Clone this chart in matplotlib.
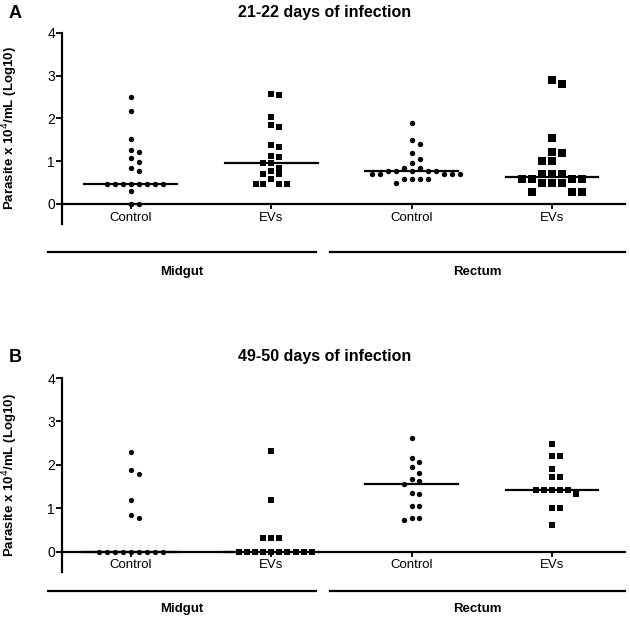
import numpy as np
import matplotlib.pyplot as plt

plt.rcParams['font.family'] = ['Liberation Sans', 'DejaVu Sans']

groups = ["Control", "EVs", "Control", "EVs"]
tissues = ["Midgut", "Rectum"]
titles = ["21-22 days of infection", "49-50 days of infection"]
panel_letters = ["A", "B"]

# panel A (21-22 days), log10 parasite counts
a_mid_ctrl = [2.50, 2.18, 1.51, 1.26, 1.22, 1.08, 0.97, 0.84, 0.78,
              0.47, 0.47, 0.47, 0.47, 0.47, 0.47, 0.47, 0.47, 0.30, 0.0, 0.0]
a_mid_evs = [2.58, 2.56, 2.04, 1.85, 1.81, 1.38, 1.33, 1.12, 1.09, 0.96, 0.96,
             0.85, 0.78, 0.69, 0.69, 0.59, 0.47, 0.47, 0.47, 0.47]
a_rec_ctrl = [1.89, 1.49, 1.41, 1.19, 1.05, 0.96, 0.85, 0.85,
              0.78, 0.78, 0.78, 0.78, 0.78, 0.70, 0.70, 0.70, 0.70, 0.70,
              0.59, 0.59, 0.59, 0.59, 0.48]
a_rec_evs = [2.91, 2.81, 1.54, 1.22, 1.19, 1.01, 1.01, 0.69, 0.69, 0.69,
             0.58, 0.58, 0.58, 0.58, 0.48, 0.48, 0.48, 0.29, 0.29, 0.29]

# panel B (49-50 days)
b_mid_ctrl = [2.29, 1.87, 1.78, 1.19, 0.85, 0.78, 0, 0, 0, 0, 0, 0, 0, 0, 0]
b_mid_evs = [2.32, 1.19, 0.31, 0.31, 0.31, 0, 0, 0, 0, 0, 0, 0, 0, 0, 0]
b_rec_ctrl = [2.61, 2.16, 2.06, 1.95, 1.81, 1.67, 1.62, 1.56, 1.35, 1.33,
              1.04, 1.04, 0.78, 0.78, 0.72]
b_rec_evs = [2.48, 2.20, 2.20, 1.90, 1.71, 1.71, 1.41, 1.41, 1.41, 1.41, 1.41,
             1.33, 1.00, 1.00, 0.61]

panels = [[a_mid_ctrl, a_mid_evs, a_rec_ctrl, a_rec_evs],
          [b_mid_ctrl, b_mid_evs, b_rec_ctrl, b_rec_evs]]
markers = ["o", "s", "o", "s"]
sizes = [[15, 17, 15, 28], [14, 13, 15, 14]]
steps = [[8, 7.7, 8, 10], [8, 8.1, 7.8, 8]]

PX_X = 140.3   # pixels per category
PX_Y = 43.0    # pixels per log unit


def swarm(values, step):
    # greedy placement like a GraphPad scatter column
    gap = step * 0.85
    placed = []
    xs = []
    for v in values:
        k = 0
        while True:
            off = ((k + 1) // 2) * step * (1 if k % 2 else -1) if k else 0.0
            ok = all(abs(off - px) >= gap or abs(v - pv) * PX_Y >= gap
                     for px, pv in placed)
            if ok:
                break
            k += 1
        placed.append((off, v))
        xs.append(off / PX_X)
    return np.array(xs)


fig = plt.figure(figsize=(6.3, 6.29), dpi=100)
boxes = [[62 / 630, 1 - 224 / 629, 563 / 630, 191 / 629],
         [62 / 630, 1 - 572 / 629, 563 / 630, 194 / 629]]
line_y = [-1.12, -0.90]
text_y = [-1.60, -1.32]
title_y = [12, 357]

for p in range(2):
    ax = fig.add_axes(boxes[p])
    for i, vals in enumerate(panels[p]):
        x = i + swarm(vals, steps[p][i])
        ax.scatter(x, vals, marker=markers[i], s=sizes[p][i], color="black",
                   linewidths=0, zorder=3, clip_on=False)
        med = np.median(vals)
        ax.plot([i - 0.33, i + 0.33], [med, med], color="black", lw=1.6,
                zorder=4, clip_on=False)

    ax.set_xlim(-0.49, 3.52)
    ax.set_ylim(-0.47, 4)
    ax.spines['top'].set_visible(False)
    ax.spines['right'].set_visible(False)
    ax.spines['bottom'].set_position(('data', 0))
    for s in ['left', 'bottom']:
        ax.spines[s].set_linewidth(1.6)
    ax.set_yticks([0, 1, 2, 3, 4])
    ax.set_xticks(range(4))
    ax.set_xticklabels(groups, fontsize=9.5)
    ax.tick_params(axis='y', labelsize=10, width=1.3, length=4, pad=1)
    ax.tick_params(axis='x', width=1.3, length=3.5, pad=2)
    ax.set_ylabel("Parasite x 10$^{4}$/mL (Log10)", fontsize=9.5,
                  fontweight='bold')
    ax.yaxis.set_label_coords(-0.075, 0.5)

    # tissue brackets under the axis
    ax.plot([-0.59, 1.32], [line_y[p], line_y[p]], color="black", lw=1.6,
            clip_on=False)
    ax.plot([1.42, 3.52], [line_y[p], line_y[p]], color="black", lw=1.6,
            clip_on=False)
    ax.text(0.36, text_y[p], tissues[0], ha='center', va='center',
            fontsize=9.5, fontweight='bold')
    ax.text(2.47, text_y[p], tissues[1], ha='center', va='center',
            fontsize=9.5, fontweight='bold')

    fig.text(325 / 630, 1 - title_y[p] / 629, titles[p], ha='center',
             va='center', fontsize=11.5, fontweight='bold')
    fig.text(15 / 630, 1 - (title_y[p] + 1) / 629, panel_letters[p],
             ha='center', va='center', fontsize=13, fontweight='bold')

fig.savefig("out.png", dpi=100)
